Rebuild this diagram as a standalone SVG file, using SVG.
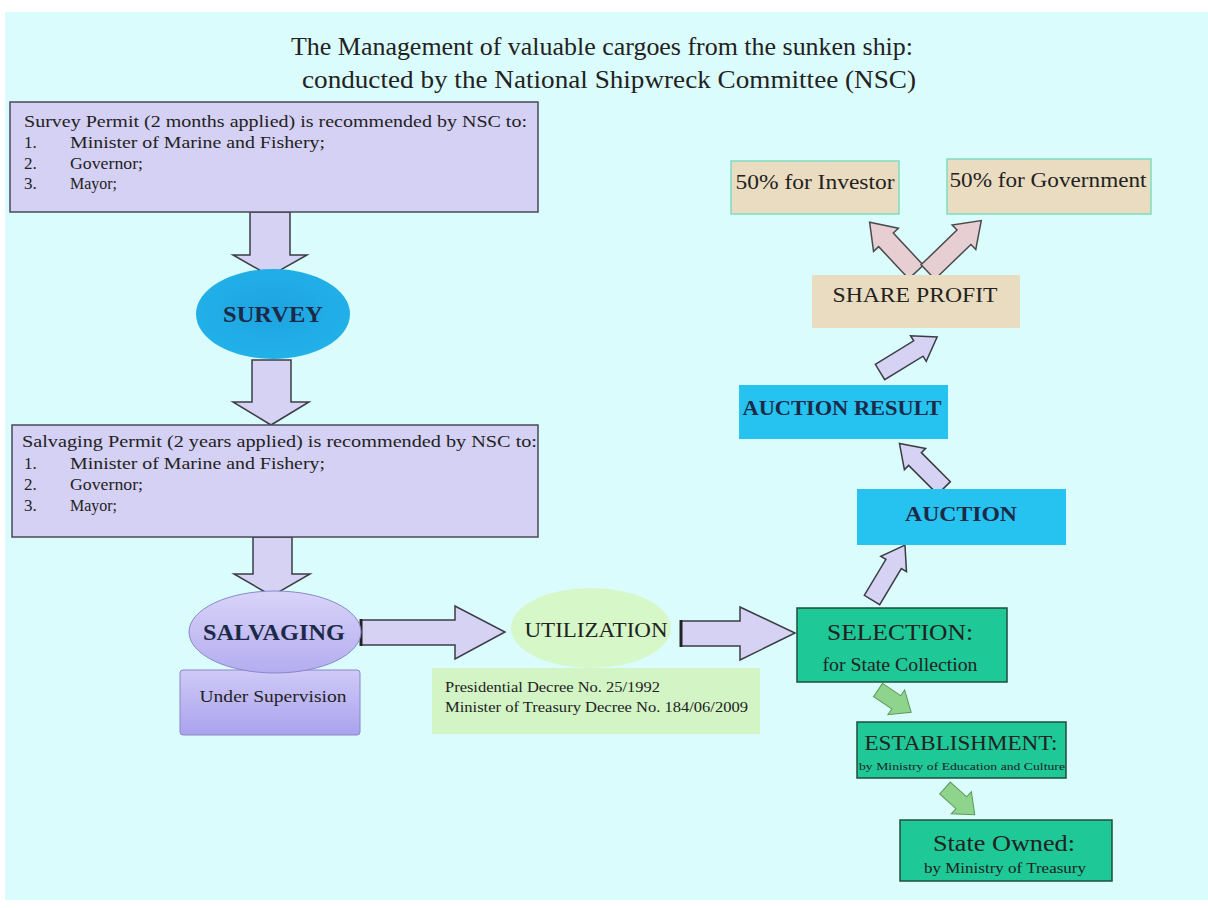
<svg xmlns="http://www.w3.org/2000/svg" width="1208" height="908" viewBox="0 0 1208 908">
<defs>
<style>
.t{font-family:"Liberation Serif","Times New Roman",serif;fill:#222}
.nv{font-family:"Liberation Serif","Times New Roman",serif;fill:#1c2a48;font-weight:bold}
.perm{fill:#d5d1f4;stroke:#4a4a55;stroke-width:1.5}
.lav{fill:#d6d2f4;stroke:#3c3c44;stroke-width:1.5;stroke-linejoin:miter}
.pink{fill:#e6ced2;stroke:#4a4a4a;stroke-width:1.5}
.grn{fill:#8ed48c;stroke:#5a9a5a;stroke-width:1}
.blue{fill:#26c3f0}
.teal{fill:#1fc897;stroke:#1f4f3c;stroke-width:1.5}
.tan{fill:#eadcc0}
</style>
<linearGradient id="gSal" x1="0" y1="0" x2="0" y2="1">
<stop offset="0" stop-color="#d8d4f8"/><stop offset="1" stop-color="#b4acf0"/>
</linearGradient>
<linearGradient id="gSup" x1="0" y1="0" x2="0" y2="1">
<stop offset="0" stop-color="#cfcaf7"/><stop offset="1" stop-color="#aaa2ee"/>
</linearGradient>
<radialGradient id="gSurv" cx="0.5" cy="0.45" r="0.6">
<stop offset="0" stop-color="#1ea4e0"/><stop offset="1" stop-color="#22b2ea"/>
</radialGradient>
</defs>
<rect x="0" y="0" width="1208" height="908" fill="#ffffff"/>
<rect x="5" y="12" width="1203" height="888" fill="#dbfcfc"/>

<g id="title">
<text class="t" x="602" y="55" font-size="25" text-anchor="middle" textLength="622" lengthAdjust="spacingAndGlyphs">The Management of valuable cargoes from the sunken ship:</text>
<text class="t" x="609" y="88" font-size="25" text-anchor="middle" textLength="614" lengthAdjust="spacingAndGlyphs">conducted by the National Shipwreck Committee (NSC)</text>
</g>

<g id="connectors">
<polygon class="lav" points="250,212 290,212 290,255 307,255 270,276 233,255 250,255"/>
<polygon class="lav" points="252,360 291,360 291,402 309,402 271,425 233,402 252,402"/>
<polygon class="lav" points="253,537 292,537 292,574 310,574 272,596 234,574 253,574"/>
<polygon class="lav" points="361,620 455,620 455,606 505,632 455,659 455,645 361,645"/>
<line x1="361" y1="619" x2="361" y2="646" stroke="#222" stroke-width="3"/>
<polygon class="lav" points="681,621 740,621 740,607 795,633 740,660 740,646 681,646"/>
<line x1="681" y1="620" x2="681" y2="647" stroke="#222" stroke-width="3"/>
<polygon class="lav" transform="translate(872,600) rotate(-59)" points="0,-9 42,-9 42,-15 64,0 42,15 42,9 0,9"/>
<polygon class="lav" transform="translate(944,488) rotate(-135)" points="0,-9 41,-9 41,-15 63,0 41,15 41,9 0,9"/>
<polygon class="lav" transform="translate(880,372) rotate(-31.5)" points="0,-9 45,-9 45,-15 67,0 45,15 45,9 0,9"/>
<polygon class="pink" transform="translate(916,272) rotate(-133)" points="0,-10 44,-10 44,-17 68,0 44,17 44,10 0,10"/>
<polygon class="pink" transform="translate(928,272) rotate(-44)" points="0,-10 50,-10 50,-17 74,0 50,17 50,10 0,10"/>
<polygon class="grn" transform="translate(878,690) rotate(34)" points="0,-8 22,-8 22,-15 40,0 22,15 22,8 0,8"/>
<polygon class="grn" transform="translate(945,788) rotate(42)" points="0,-8 22,-8 22,-15 40,0 22,15 22,8 0,8"/>
</g>

<g id="survey-permit">
<rect class="perm" x="10" y="102" width="528" height="110"/>
<text class="t" x="24" y="127" font-size="17" textLength="503" lengthAdjust="spacingAndGlyphs">Survey Permit (2 months applied) is recommended by NSC to:</text>
<text class="t" x="24" y="148" font-size="17">1.</text>
<text class="t" x="70" y="148" font-size="17" textLength="255" lengthAdjust="spacingAndGlyphs">Minister of Marine and Fishery;</text>
<text class="t" x="24" y="169" font-size="17">2.</text>
<text class="t" x="70" y="169" font-size="17" textLength="73" lengthAdjust="spacingAndGlyphs">Governor;</text>
<text class="t" x="24" y="189" font-size="17">3.</text>
<text class="t" x="70" y="189" font-size="17" textLength="47" lengthAdjust="spacingAndGlyphs">Mayor;</text>
</g>

<g id="survey">
<ellipse cx="273" cy="314" rx="77" ry="45" fill="url(#gSurv)"/>
<text class="nv" x="273" y="322" font-size="23" text-anchor="middle" textLength="100" lengthAdjust="spacingAndGlyphs">SURVEY</text>
</g>

<g id="salvaging-permit">
<rect class="perm" x="12" y="425" width="526" height="112"/>
<text class="t" x="22" y="447" font-size="17" textLength="515" lengthAdjust="spacingAndGlyphs">Salvaging Permit (2 years applied) is recommended by NSC to:</text>
<text class="t" x="24" y="469" font-size="17">1.</text>
<text class="t" x="70" y="469" font-size="17" textLength="255" lengthAdjust="spacingAndGlyphs">Minister of Marine and Fishery;</text>
<text class="t" x="24" y="490" font-size="17">2.</text>
<text class="t" x="70" y="490" font-size="17" textLength="73" lengthAdjust="spacingAndGlyphs">Governor;</text>
<text class="t" x="24" y="511" font-size="17">3.</text>
<text class="t" x="70" y="511" font-size="17" textLength="47" lengthAdjust="spacingAndGlyphs">Mayor;</text>
</g>

<g id="supervision">
<rect x="180" y="670" width="180" height="65" rx="3" fill="url(#gSup)" stroke="#8a86c8" stroke-width="1"/>
<text class="t" x="273" y="702" font-size="17" text-anchor="middle" textLength="147" lengthAdjust="spacingAndGlyphs">Under Supervision</text>
</g>

<g id="salvaging">
<ellipse cx="275" cy="632" rx="86" ry="41" fill="url(#gSal)" stroke="#8a88c8" stroke-width="1"/>
<text class="nv" x="274" y="640" font-size="23" text-anchor="middle" textLength="142" lengthAdjust="spacingAndGlyphs">SALVAGING</text>
</g>

<g id="decree">
<rect x="432" y="668" width="328" height="66" fill="#d3f5c6"/>
<text class="t" x="445" y="692" font-size="14" textLength="215" lengthAdjust="spacingAndGlyphs">Presidential Decree No. 25/1992</text>
<text class="t" x="445" y="712" font-size="14" textLength="303" lengthAdjust="spacingAndGlyphs">Minister of Treasury Decree No. 184/06/2009</text>
</g>

<g id="utilization">
<ellipse cx="591" cy="628" rx="80" ry="40" fill="#d6f7c8"/>
<text class="t" x="596" y="637" font-size="22" text-anchor="middle" textLength="143" lengthAdjust="spacingAndGlyphs">UTILIZATION</text>
</g>

<g id="selection">
<rect class="teal" x="797" y="608" width="210" height="74"/>
<text class="t" x="900" y="640" font-size="23" text-anchor="middle" textLength="146" lengthAdjust="spacingAndGlyphs">SELECTION:</text>
<text class="t" x="900" y="671" font-size="18" text-anchor="middle" textLength="155" lengthAdjust="spacingAndGlyphs">for State Collection</text>
</g>

<g id="auction">
<rect class="blue" x="857" y="489" width="209" height="56"/>
<text class="nv" x="961" y="521" font-size="22" text-anchor="middle" font-weight="normal" textLength="112" lengthAdjust="spacingAndGlyphs">AUCTION</text>
</g>

<g id="auction-result">
<rect class="blue" x="739" y="385" width="209" height="54"/>
<text class="nv" x="842" y="415" font-size="22" text-anchor="middle" font-weight="normal" textLength="199" lengthAdjust="spacingAndGlyphs">AUCTION RESULT</text>
</g>

<g id="share-profit">
<rect class="tan" x="812" y="275" width="208" height="53"/>
<text class="t" x="915" y="302" font-size="21" text-anchor="middle" textLength="165" lengthAdjust="spacingAndGlyphs">SHARE PROFIT</text>
</g>

<g id="investor">
<rect class="tan" x="731" y="161" width="168" height="53" stroke="#7fdcc0" stroke-width="1.5"/>
<text class="t" x="815" y="189" font-size="22" text-anchor="middle" textLength="159" lengthAdjust="spacingAndGlyphs">50% for Investor</text>
</g>

<g id="government">
<rect class="tan" x="947" y="159" width="204" height="55" stroke="#7fdcc0" stroke-width="1.5"/>
<text class="t" x="1048" y="187" font-size="22" text-anchor="middle" textLength="197" lengthAdjust="spacingAndGlyphs">50% for Government</text>
</g>

<g id="establishment">
<rect class="teal" x="857" y="722" width="209" height="56"/>
<text class="t" x="961" y="750" font-size="20" text-anchor="middle" textLength="193" lengthAdjust="spacingAndGlyphs">ESTABLISHMENT:</text>
<text class="t" x="962" y="770" font-size="11" text-anchor="middle" textLength="206" lengthAdjust="spacingAndGlyphs">by Ministry of Education and Culture</text>
</g>

<g id="state-owned">
<rect class="teal" x="900" y="820" width="212" height="61"/>
<text class="t" x="1004" y="851" font-size="23" text-anchor="middle" textLength="142" lengthAdjust="spacingAndGlyphs">State Owned:</text>
<text class="t" x="1005" y="873" font-size="15" text-anchor="middle" textLength="162" lengthAdjust="spacingAndGlyphs">by Ministry of Treasury</text>
</g>
</svg>
